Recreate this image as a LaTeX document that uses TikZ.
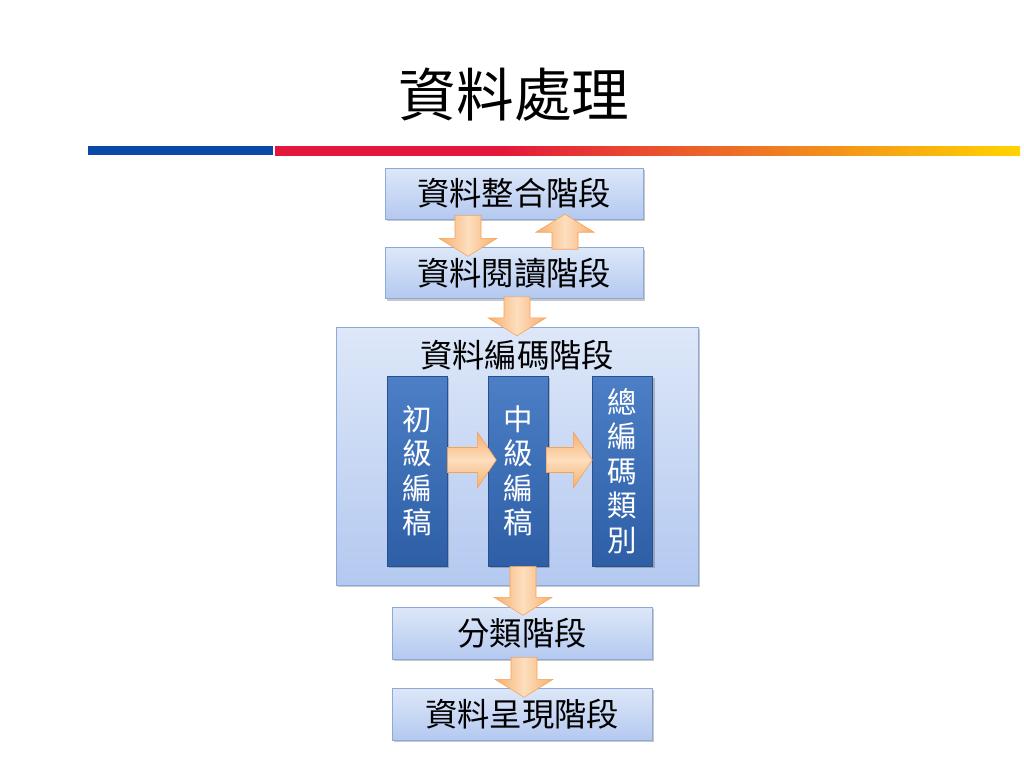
\documentclass[tikz,border=0pt]{standalone}
\usepackage{fontspec}
\setmainfont{Noto Sans CJK TC}
\usepackage{xcolor}
\usepackage{tikz}
\usetikzlibrary{shadows, calc}

\definecolor{boxtop}{HTML}{DDE7F8}
\definecolor{boxbot}{HTML}{B4C9F0}
\definecolor{boxline}{HTML}{8DA9D9}
\definecolor{coltop}{HTML}{4C7FC6}
\definecolor{colbot}{HTML}{2D5EA6}
\definecolor{colline}{HTML}{2B4F8C}
\definecolor{arrowedge}{HTML}{F7AE6A}
\definecolor{arrowmid}{HTML}{FDDEBF}
\definecolor{arrowline}{HTML}{F3A25A}
\definecolor{barblue}{HTML}{0A4AA6}
\definecolor{barred}{HTML}{E3173B}
\definecolor{barorange}{HTML}{EE7A24}
\definecolor{baryellow}{HTML}{FFD400}

\pgfdeclarehorizontalshading{redyellow}{100bp}{color(0bp)=(barred); color(25bp)=(barred); color(40bp)=(barred); color(58bp)=(barorange); color(75bp)=(baryellow); color(100bp)=(baryellow)}

\tikzset{
    boxshadow/.style={drop shadow={shadow xshift=0.5mm, shadow yshift=-0.6mm, opacity=0.3, fill=black!70}},
    stagebox/.style={draw=boxline, top color=boxtop, bottom color=boxbot, boxshadow,
        minimum width=64.5mm, minimum height=12.75mm, font=\fontsize{23pt}{27pt}\selectfont},
    subbox/.style={draw=colline, top color=coltop, bottom color=colbot, boxshadow, text=white,
        align=center, minimum width=15mm, minimum height=47.5mm, font=\fontsize{21pt}{24.5pt}\selectfont},
    downfill/.style={draw=arrowline, left color=arrowedge, right color=arrowedge, middle color=arrowmid},
    rightfill/.style={draw=arrowline, top color=arrowedge, bottom color=arrowedge, middle color=arrowmid},
    pics/downarr/.style={code={
        \draw[downfill] (-13,0) -- (13,0) -- (13,#1-18) -- (29,#1-18) -- (0,#1) -- (-29,#1-18) -- (-13,#1-18) -- cycle;
    }},
    pics/uparr/.style={code={
        \draw[downfill] (-13,0) -- (13,0) -- (13,-#1+18) -- (29,-#1+18) -- (0,-#1) -- (-29,-#1+18) -- (-13,-#1+18) -- cycle;
    }},
    pics/rightarr/.style={code={
        \draw[rightfill] (0,-12.5) -- (#1-19,-12.5) -- (#1-19,-28) -- (#1,0) -- (#1-19,28) -- (#1-19,12.5) -- (0,12.5) -- cycle;
    }}
}

\begin{document}
\begin{tikzpicture}[x=0.25mm, y=-0.25mm]
    \useasboundingbox[fill=white] (0,0) rectangle (1024,768);

    % title and bar
    \node (title) at (514,95) {\fontsize{41pt}{48pt}\selectfont 資料處理};
    \fill[barblue] (88,146) rectangle (273,155);
    \shade[shading=redyellow] (275,146) rectangle (1020,155);

    % coding stage
    \node[stagebox, minimum width=90.5mm, minimum height=64.5mm] (coding) at (517,456) {};
    \node[font=\fontsize{23pt}{27pt}\selectfont] (codetitle) at (517,355) {資料編碼階段};
    \node[subbox] (basic) at (417,471) {初\\級\\編\\稿};
    \node[subbox] (mid) at (518,471) {中\\級\\編\\稿};
    \node[subbox] (total) at (622.5,471) {總\\編\\碼\\類\\別};

    % stages
    \node[stagebox] (integ) at (514,193.5) {資料整合階段};
    \node[stagebox] (read) at (514,273) {資料閱讀階段};
    \node[stagebox, minimum width=65mm, minimum height=13mm] (classify) at (522,633) {分類階段};
    \node[stagebox, minimum width=65mm, minimum height=13mm] (present) at (522,714) {資料呈現階段};

    % arrows
    \pic at ($(integ.south)+(-46,-4)$) {downarr=41};
    \pic at ($(read.north)+(51,2)$) {uparr=35};
    \pic at ($(read.south)+(3,-2)$) {downarr=39};
    \pic at ($(basic.east)+(0,-11)$) {rightarr=49};
    \pic at ($(mid.east)+(-2,-11)$) {rightarr=46};
    \pic at ($(mid.south)+(5,0)$) {downarr=49};
    \pic at ($(classify.south)+(2,-2)$) {downarr=40};
\end{tikzpicture}
\end{document}
